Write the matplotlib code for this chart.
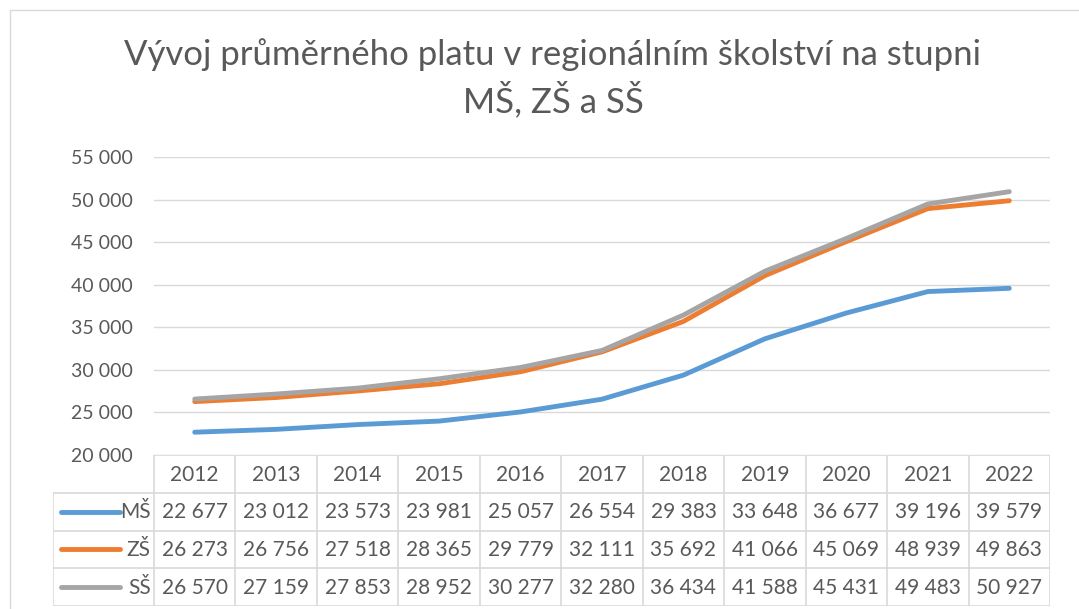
import matplotlib.pyplot as plt
from matplotlib.patches import Rectangle
import numpy as np

plt.rcParams['font.family'] = ['Lato', 'DejaVu Sans']

years = ['2012', '2013', '2014', '2015', '2016', '2017', '2018', '2019', '2020', '2021', '2022']
ms = [22677, 23012, 23573, 23981, 25057, 26554, 29383, 33648, 36677, 39196, 39579]
zs = [26273, 26756, 27518, 28365, 29779, 32111, 35692, 41066, 45069, 48939, 49863]
ss = [26570, 27159, 27853, 28952, 30277, 32280, 36434, 41588, 45431, 49483, 50927]
series_names = ['MŠ', 'ZŠ', 'SŠ']
colors = ['#5B9BD5', '#ED7D31', '#A5A5A5']

title = 'Vývoj průměrného platu v regionálním školství na stupni\nMŠ, ZŠ a SŠ'
txt = '#595959'
grid = '#D9D9D9'

W, H = 1079, 609
fig = plt.figure(figsize=(W / 100, H / 100), dpi=100)

def px(x0, y0, x1, y1):
    # pixel box (top-left origin) -> figure fraction rect
    return [x0 / W, 1 - y1 / H, (x1 - x0) / W, (y1 - y0) / H]

# chart area border
fig.patches.append(Rectangle((10 / W, -0.1), 1.2, 1 - 10 / H + 0.1, transform=fig.transFigure,
                             fill=False, edgecolor='#D9D9D9', lw=1))

fig.text(553 / W, 1 - 78 / H, title, ha='center', va='center', fontsize=25,
         color=txt, linespacing=1.35)

# plot area
left, right, top, bottom = 154, 1050, 157, 455
ax = fig.add_axes(px(left, top, right, bottom))
x = np.arange(len(years))
all_series = [ms, zs, ss]
for vals, c in zip(all_series, colors):
    ax.plot(x, vals, color=c, lw=3.5, solid_capstyle='round')
ax.set_xlim(-0.5, len(years) - 0.5)
ax.set_ylim(20000, 55000)
yt = list(range(20000, 55001, 5000))
ax.set_yticks(yt)
ax.set_yticklabels([f'{v:,}'.replace(',', ' ') for v in yt], fontsize=14, color=txt)
ax.set_xticks([])
ax.tick_params(axis='y', length=0, pad=15)
ax.grid(axis='y', color=grid, lw=1)
ax.set_axisbelow(True)
for s in ax.spines.values():
    s.set_visible(False)

# data table below the plot
key_left = 53
colw = (right - left) / len(years)
tab = fig.add_axes(px(key_left, bottom, right, 606))
tab.set_xlim(-0.5 - (left - key_left) / colw, len(years) - 0.5)
tab.set_ylim(4, 0)
tab.axis('off')
lo = -0.5 - (left - key_left) / colw
lk = dict(color=grid, lw=1.2)
tab.plot([-0.5, len(years) - 0.5], [0, 0], **lk)
for r in range(1, 5):
    tab.plot([lo, len(years) - 0.5], [r, r], **lk)
tab.plot([lo, lo], [1, 4], **lk)
for c in range(len(years) + 1):
    tab.plot([c - 0.5, c - 0.5], [0, 4], **lk)
for i, yr in enumerate(years):
    tab.text(i, 0.52, yr, ha='center', va='center', fontsize=15, color=txt)
for r, (name, vals, c) in enumerate(zip(series_names, all_series, colors), start=1):
    tab.plot([lo + 0.1, lo + 0.82], [r + 0.5, r + 0.5], color=c, lw=3.5, solid_capstyle='round')
    tab.text(-0.54, r + 0.52, name, ha='right', va='center', fontsize=15, color=txt)
    for i, v in enumerate(vals):
        tab.text(i, r + 0.52, f'{v:,}'.replace(',', ' '), ha='center', va='center',
                 fontsize=15, color=txt)

fig.savefig('out.png', dpi=100)
